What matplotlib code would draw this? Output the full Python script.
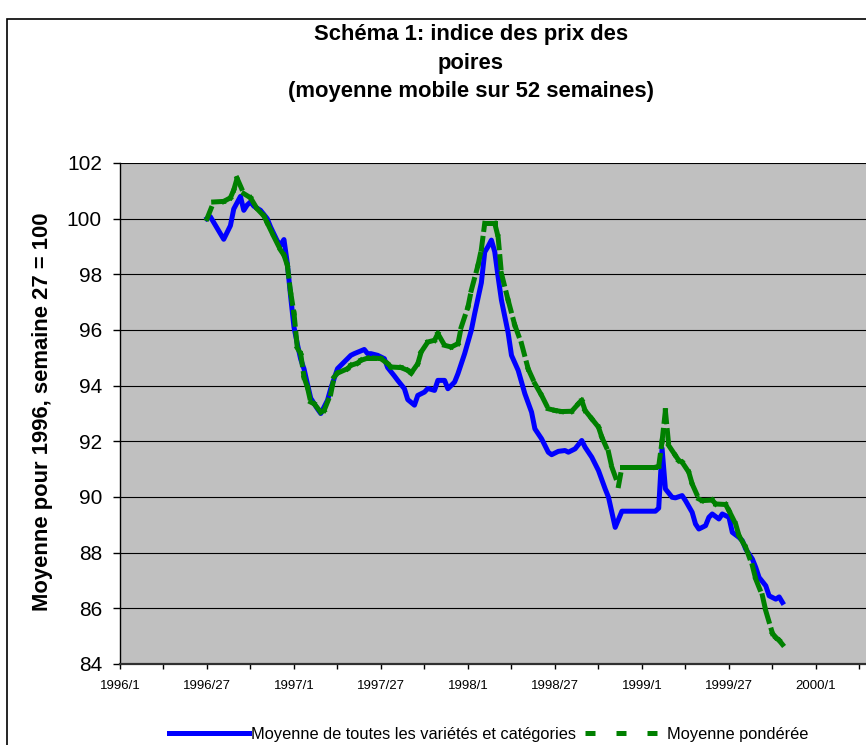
import matplotlib
matplotlib.use("Agg")
import matplotlib.pyplot as plt
from matplotlib.collections import LineCollection
from matplotlib.lines import Line2D
from matplotlib.patches import Rectangle
from matplotlib.ticker import FuncFormatter, MultipleLocator

plt.rcParams["font.family"] = ["Liberation Sans", "DejaVu Sans"]

# x = week counted from 1996/1 (= 0), 52 weeks per year on the axis
title_lines = [
    "Schéma 1: indice des prix des",
    "poires",
    "(moyenne mobile sur 52 semaines)",
]
y_label = "Moyenne pour 1996, semaine 27 = 100"
tick_labels = ["1996/1", "1996/27", "1997/1", "1997/27", "1998/1",
               "1998/27", "1999/1", "1999/27", "2000/1"]
series_names = ["Moyenne de toutes les variétés et catégories",
                "Moyenne pondérée"]

blue_weeks = [26, 27, 31, 33, 34, 36, 37, 38, 39, 40, 42, 44, 45, 47, 48,
              49, 50, 51, 52, 53, 54, 55, 56, 57, 59, 60, 62, 63, 65, 67,
              69, 70, 73, 74, 75, 77, 79, 80, 82, 83, 85, 86, 88, 89, 91,
              92, 94, 95, 97, 98, 100, 101, 103, 105, 106, 108, 109, 110,
              111, 112, 113, 114, 116, 117, 119, 121, 123, 124, 126, 128,
              129, 131, 133, 134, 136, 138, 139, 141, 143, 145, 146, 147,
              148, 150, 160, 161, 162, 163, 165, 166, 168, 169, 171, 172,
              173, 175, 176, 177, 179, 180, 182, 183, 185, 186, 187, 189,
              190, 191, 193, 194, 196, 197, 198]
blue_values = [100.0, 100.07, 99.26, 99.75, 100.35, 100.8, 100.3, 100.49,
               100.6, 100.45, 100.3, 100.0, 99.7, 99.2, 99.05, 99.25, 98.4,
               97.2, 96.1, 95.5, 94.95, 94.6, 94.07, 93.55, 93.17, 93.0,
               93.47, 93.9, 94.61, 94.85, 95.09, 95.15, 95.3, 95.15, 95.15,
               95.09, 94.97, 94.65, 94.35, 94.19, 93.89, 93.5, 93.3, 93.65,
               93.77, 93.9, 93.83, 94.19, 94.19, 93.89, 94.13, 94.43, 95.15,
               95.99, 96.59, 97.7, 98.8, 99.0, 99.23, 98.81, 97.91, 97.07,
               95.9, 95.09, 94.55, 93.71, 93.05, 92.45, 92.09, 91.61, 91.52,
               91.64, 91.67, 91.61, 91.73, 92.03, 91.79, 91.43, 90.95,
               90.29, 89.99, 89.45, 88.91, 89.49, 89.49, 89.6, 91.75, 90.29,
               89.99, 89.97, 90.05, 89.87, 89.45, 89.03, 88.85, 88.97,
               89.27, 89.39, 89.21, 89.39, 89.27, 88.73, 88.55, 88.43,
               88.13, 87.77, 87.47, 87.11, 86.81, 86.45, 86.33, 86.41, 86.21]

green_weeks = [26, 28, 31, 33, 34, 35, 37, 39, 41, 43, 44, 46, 48, 49, 50,
               51, 52, 53, 54, 55, 56, 57, 58, 60, 61, 63, 64, 65, 68, 69,
               71, 72, 74, 76, 78, 80, 81, 84, 86, 87, 89, 90, 92, 94, 95,
               97, 99, 101, 102, 104, 105, 107, 108, 109, 112, 113, 114,
               116, 118, 120, 122, 124, 126, 128, 130, 132, 135, 137, 138,
               139, 141, 143, 144, 146, 147, 149, 150, 151, 152, 153, 154,
               155, 156, 157, 158, 159, 160, 161, 162, 163, 164, 166, 167,
               168, 170, 171, 173, 174, 177, 178, 181, 182, 184, 185, 187,
               189, 190, 192, 193, 195, 196, 197, 198]
green_values = [100.0, 100.6, 100.62, 100.75, 101.03, 101.45, 100.9, 100.75,
                100.35, 100.1, 99.85, 99.35, 98.87, 98.69, 98.33, 97.35,
                96.6, 95.35, 95.15, 94.3, 93.95, 93.41, 93.35, 93.05, 93.11,
                93.71, 94.31, 94.45, 94.61, 94.73, 94.81, 94.91, 94.99,
                94.99, 94.97, 94.79, 94.67, 94.65, 94.55, 94.45, 94.79,
                95.21, 95.57, 95.63, 95.87, 95.45, 95.39, 95.51, 96.11,
                96.83, 97.43, 98.33, 98.9, 99.83, 99.83, 99.35, 98.03,
                97.07, 96.17, 95.51, 94.6, 94.07, 93.65, 93.17, 93.11,
                93.07, 93.08, 93.35, 93.47, 93.11, 92.81, 92.51, 92.15,
                91.61, 91.07, 90.41, 91.07, 91.07, 91.07, 91.07, 91.07,
                91.07, 91.07, 91.07, 91.07, 91.07, 91.07, 91.1, 92.0, 93.1,
                91.85, 91.49, 91.31, 91.25, 90.89, 90.47, 89.93, 89.87,
                89.89, 89.75, 89.73, 89.51, 89.03, 88.61, 88.19, 87.53,
                87.05, 86.45, 85.91, 85.1, 84.95, 84.85, 84.7]

W, H = 866, 745
fig = plt.figure(figsize=(W / 100, H / 100), dpi=100)
fig.patch.set_facecolor("white")

# outer chart frame (cut off at right and bottom in the source)
fig.add_artist(Rectangle((7 / W, -0.05), 1.2, 1 - 19 / H + 0.05,
                         transform=fig.transFigure, fill=False,
                         edgecolor="black", lw=1.2))

left, right, top, bottom = 120, 885, 163, 664
ax = fig.add_axes([left / W, 1 - bottom / H, (right - left) / W,
                   (bottom - top) / H])
ax.set_facecolor("#C0C0C0")
ax.set_xlim(0, (right - left) / 3.346)
ax.set_ylim(84, 102)
ax.set_yticks(range(84, 103, 2))
ax.set_axisbelow(True)
ax.yaxis.grid(True, color="black", lw=0.8)

for side in ("top", "right"):
    ax.spines[side].set_visible(False)
ax.spines["left"].set_color("black")
ax.spines["left"].set_linewidth(1.0)
ax.spines["bottom"].set_color("#303030")
ax.spines["bottom"].set_linewidth(1.6)

ax.xaxis.set_major_locator(MultipleLocator(13))


def week_label(v, pos):
    i = int(round(v))
    if i % 26 == 0 and i // 26 < len(tick_labels):
        return tick_labels[i // 26]
    return ""


ax.xaxis.set_major_formatter(FuncFormatter(week_label))
ax.tick_params(axis="x", direction="out", length=3.6, width=1,
               pad=8, labelsize=9.5)
ax.tick_params(axis="y", direction="out", length=5, width=1,
               pad=8, labelsize=15)

ax.plot(blue_weeks, blue_values, color="#0000FF", lw=3.6,
        solid_joinstyle="round", zorder=3)

# Excel restarts the dash pattern at every data point
segs = [[(green_weeks[i], green_values[i]),
         (green_weeks[i + 1], green_values[i + 1])]
        for i in range(len(green_weeks) - 1)]
lc = LineCollection(segs, colors="#008000", linewidths=3.6,
                    linestyles=[(0, (2.2, 1.8))], zorder=4)
lc.set_capstyle("projecting")
ax.add_collection(lc)

for txt, base in zip(title_lines, [40, 68.5, 97]):
    fig.text(471 / W, 1 - base / H, txt, ha="center", va="baseline",
             fontsize=15.8, fontweight="bold")

fig.text(42.5 / W, 1 - 412 / H, y_label, rotation=90, ha="center",
         va="center", fontsize=15.8, fontweight="bold")

handles = [
    Line2D([], [], color="#0000FF", lw=3.6),
    Line2D([], [], color="#008000", lw=3.6, dashes=(2, 4.2),
           dash_capstyle="butt"),
]
fig.legend(handles, series_names, loc="center", ncol=2,
           bbox_to_anchor=(488.5 / W, 1 - 734 / H), frameon=False,
           fontsize=11.8, handlelength=4.9, handletextpad=0.12,
           columnspacing=0.55, borderpad=0, borderaxespad=0)

fig.savefig("out.png", dpi=100)
